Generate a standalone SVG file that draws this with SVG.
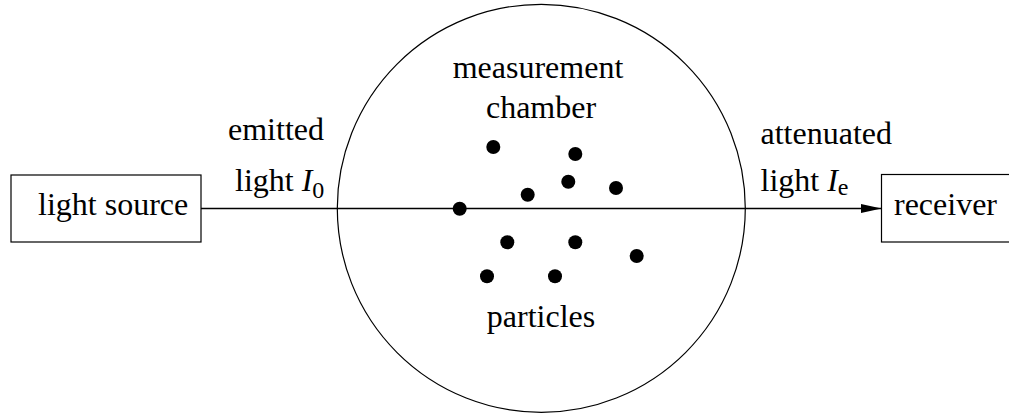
<svg xmlns="http://www.w3.org/2000/svg" width="1009" height="414" viewBox="0 0 1009 414">
<style>
text{font-family:"Liberation Serif",serif;font-size:32px;fill:#000}
.it{font-style:italic}
.sub{font-size:24px}
.box{fill:#fff;stroke:#000;stroke-width:1.2}
.dot{fill:#000}
</style>
<defs>
<marker id="arr" markerUnits="userSpaceOnUse" markerWidth="22" markerHeight="12" refX="21" refY="5" orient="auto">
<polygon points="0,0.5 21,5 0,9.5" fill="#000"/>
</marker>
</defs>
<rect width="1009" height="414" fill="#fff"/>
<g id="chamber">
<circle cx="541.3" cy="208.3" r="204" fill="none" stroke="#000" stroke-width="1.2"/>
<text x="538" y="78" text-anchor="middle">measurement</text>
<text x="541" y="118" text-anchor="middle">chamber</text>
</g>
<g id="connectors">
<line x1="201" y1="208.5" x2="881.5" y2="208.5" stroke="#000" stroke-width="1.3" marker-end="url(#arr)"/>
</g>
<g id="light-source">
<rect class="box" x="11" y="175" width="190" height="67"/>
<text x="38" y="215">light source</text>
</g>
<g id="receiver">
<rect class="box" x="881.5" y="174.5" width="160" height="67.5"/>
<text x="894" y="215">receiver</text>
</g>
<g id="emitted-label">
<text x="228" y="140">emitted</text>
<text x="235" y="191">light <tspan class="it">I</tspan><tspan class="sub" dy="7">0</tspan></text>
</g>
<g id="attenuated-label">
<text x="760.5" y="144">attenuated</text>
<text x="760.5" y="191">light <tspan class="it">I</tspan><tspan class="sub" dy="4">e</tspan></text>
</g>
<g id="particles">
<circle class="dot" cx="493.3" cy="147" r="7"/>
<circle class="dot" cx="575.3" cy="154" r="7"/>
<circle class="dot" cx="568.3" cy="181.7" r="7"/>
<circle class="dot" cx="616" cy="188" r="7"/>
<circle class="dot" cx="527.7" cy="194.7" r="7"/>
<circle class="dot" cx="459.7" cy="208.7" r="7"/>
<circle class="dot" cx="507.3" cy="242.3" r="7"/>
<circle class="dot" cx="575.3" cy="242.3" r="7"/>
<circle class="dot" cx="636.7" cy="256" r="7"/>
<circle class="dot" cx="487" cy="276.3" r="7"/>
<circle class="dot" cx="555" cy="276.3" r="7"/>
<text x="541" y="327" text-anchor="middle">particles</text>
</g>
</svg>
